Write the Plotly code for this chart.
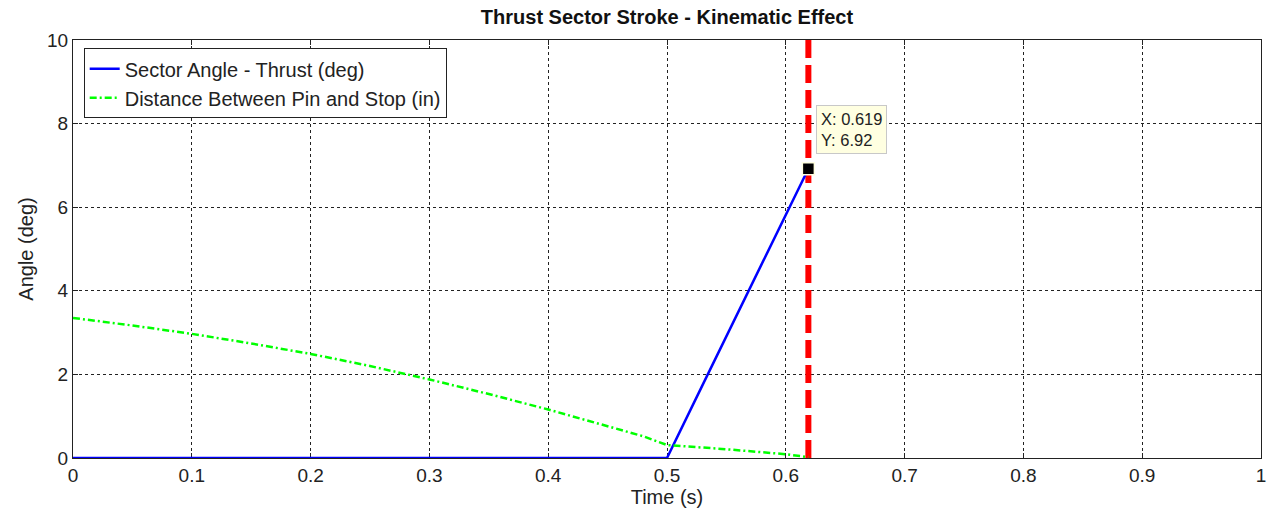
import plotly.graph_objects as go

# Sector angle (thrust) vs time
time_angle = [0.0, 0.1, 0.2, 0.3, 0.4, 0.5, 0.53, 0.56, 0.59, 0.619]
sector_angle = [0.0, 0.0, 0.0, 0.0, 0.0, 0.0, 1.75, 3.5, 5.25, 6.92]

# Distance between pin and stop vs time
time_dist = [0.0, 0.05, 0.1, 0.15, 0.2, 0.25, 0.3, 0.35, 0.4, 0.45, 0.48, 0.5,
             0.55, 0.6, 0.619]
pin_stop = [3.35, 3.17, 2.97, 2.74, 2.49, 2.20, 1.88, 1.53, 1.16, 0.75, 0.52, 0.31,
            0.21, 0.09, 0.02]

# Stop event marker
event_t = 0.619
event_val = 6.92

FONT = "Liberation Sans, Arial"

fig = go.Figure()

fig.add_trace(go.Scatter(
    x=[event_t, event_t], y=[0, 10], mode="lines",
    line=dict(color="#ff0000", width=6, dash="18px,7px"),
    showlegend=False, hoverinfo="skip"))

fig.add_trace(go.Scatter(
    x=time_angle, y=sector_angle, mode="lines",
    name="Sector Angle - Thrust (deg)",
    line=dict(color="#0000ff", width=2.5)))

fig.add_trace(go.Scatter(
    x=time_dist, y=pin_stop, mode="lines",
    name="Distance Between Pin and Stop (in)",
    line=dict(color="#00ff00", width=2.5, dash="7px,3px,2px,3px")))

fig.add_trace(go.Scatter(
    x=[event_t], y=[event_val], mode="markers",
    marker=dict(symbol="square", size=12, color="black",
                line=dict(color="#ffffe1", width=1.5)),
    showlegend=False, hoverinfo="skip"))

fig.add_annotation(
    x=event_t, y=event_val, xref="x", yref="y",
    text=f"X: {event_t}<br>Y: {event_val}",
    showarrow=False, xanchor="left", yanchor="bottom",
    xshift=8, yshift=15, align="left",
    bgcolor="#ffffe1", bordercolor="#c8c8c8", borderwidth=1, borderpad=4,
    font=dict(family=FONT, size=16.5, color="#222"))

axis_common = dict(
    showline=True, linecolor="#222", linewidth=1, mirror="ticks",
    ticks="inside", ticklen=5, tickcolor="#222",
    showgrid=True, gridcolor="#222", gridwidth=1, griddash="3px,3px",
    zeroline=False, layer="below traces",
    tickfont=dict(family=FONT, size=19, color="#222"),
)

fig.update_xaxes(range=[0, 1], dtick=0.1, tick0=0,
                 title=dict(text="Time (s)", standoff=2,
                            font=dict(family=FONT, size=20, color="#222")),
                 **axis_common)
fig.update_yaxes(range=[0, 10], dtick=2, tick0=0,
                 title=dict(text="Angle (deg)", standoff=8,
                            font=dict(family=FONT, size=20, color="#222")),
                 **axis_common)

fig.update_layout(
    width=1272, height=517,
    margin=dict(l=73, r=6, t=40, b=59),
    paper_bgcolor="white", plot_bgcolor="white",
    title=dict(text="<b>Thrust Sector Stroke - Kinematic Effect</b>",
               x=0.5, xref="paper", xanchor="center", y=0.968, yanchor="middle",
               font=dict(family=FONT, size=20, color="#111")),
    legend=dict(x=0.009, y=0.98, xanchor="left", yanchor="top",
                bgcolor="white", bordercolor="#222", borderwidth=1,
                font=dict(family=FONT, size=20, color="#222"),
                tracegroupgap=0),
    showlegend=True,
)

fig.write_html("out.html")
